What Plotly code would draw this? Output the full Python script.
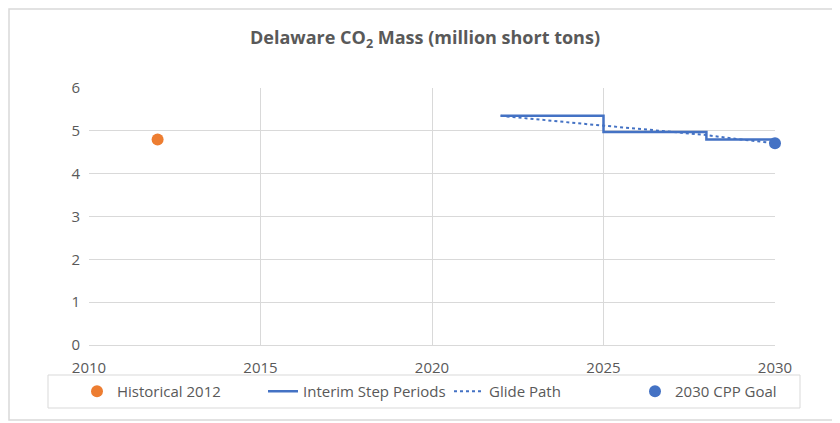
import plotly.graph_objects as go

hist_year = [2012]
hist_val = [4.80]
step_years = [2022, 2025, 2028, 2030]
step_vals = [5.35, 4.97, 4.80, 4.80]
glide_years = [2022, 2023, 2024, 2025, 2026, 2027, 2028, 2029, 2030]
glide_vals = [5.35, 5.27, 5.20, 5.12, 5.05, 4.97, 4.90, 4.80, 4.71]
goal_year = [2030]
goal_val = [4.71]
x_ticks = [2010, 2015, 2020, 2025, 2030]
y_ticks = [0, 1, 2, 3, 4, 5, 6]

FONT = "Open Sans, sans-serif"
GRAY = "#595959"
BLUE = "#4472c4"
ORANGE = "#ed7d31"
GRID = "#d9d9d9"

# page body has an 8px margin; the figure is placed at (8, 8) in the window
OFF = 8
W, H = 840 - OFF, 423 - OFF

fig = go.Figure()
fig.add_trace(go.Scatter(x=hist_year, y=hist_val, mode="markers", name="Historical 2012",
                         marker=dict(color=ORANGE, size=12), cliponaxis=False))
fig.add_trace(go.Scatter(x=step_years, y=step_vals, mode="lines", name="Interim Step Periods",
                         line=dict(color=BLUE, width=2.5, shape="hv"), cliponaxis=False))
fig.add_trace(go.Scatter(x=glide_years, y=glide_vals, mode="lines", name="Glide Path",
                         line=dict(color=BLUE, width=2, dash="dot"), cliponaxis=False))
fig.add_trace(go.Scatter(x=goal_year, y=goal_val, mode="markers", name="2030 CPP Goal",
                         marker=dict(color=BLUE, size=12), cliponaxis=False))

# plot area in window pixels: x 89..775, y 88..345
l = 89 - OFF
t = 88 - OFF
r = W - (775 - OFF)
b = H - (345 - OFF)
pw = W - l - r
ph = H - t - b

def px_x(p):
    return (p - OFF - l) / pw

def px_y(p):
    return (H - b - (p - OFF)) / ph

bx0, bx1 = px_x(9), px_x(900)
by0, by1 = px_y(420), px_y(9)
border_path = f"M {bx1},{by1} L {bx0},{by1} L {bx0},{by0} L {bx1},{by0}"

fig.update_layout(
    width=W, height=H,
    margin=dict(l=l, r=r, t=t, b=b, autoexpand=False),
    paper_bgcolor="white", plot_bgcolor="white",
    font=dict(family=FONT, color=GRAY, size=15),
    title=dict(text="<b>Delaware CO<sub>2</sub> Mass (million short tons)</b>",
               x=(425 - OFF) / W, xanchor="center", y=1 - (38 - OFF) / H, yanchor="middle",
               xref="container", yref="container",
               font=dict(size=18, color=GRAY, family=FONT)),
    xaxis=dict(range=[2010, 2030], tickvals=x_ticks, showgrid=True, gridcolor=GRID,
               gridwidth=1, zeroline=False, showline=True, linecolor=GRID,
               ticks="", ticklabelstandoff=9, tickfont=dict(size=15, color=GRAY)),
    yaxis=dict(range=[0, 6], tickvals=y_ticks, showgrid=True, gridcolor=GRID,
               gridwidth=1, zeroline=False, showline=False, ticks="",
               ticklabelstandoff=8, tickfont=dict(size=15, color=GRAY)),
    legend=dict(orientation="h", x=px_x(77), xanchor="left", y=px_y(391.5), yanchor="middle",
                borderwidth=0, bgcolor="rgba(0,0,0,0)",
                font=dict(size=15, color=GRAY), entrywidth=141),
    showlegend=True,
    shapes=[
        dict(type="path", xref="paper", yref="paper", path=border_path,
             line=dict(color=GRID, width=1.5), layer="below"),
        dict(type="rect", xref="paper", yref="paper",
             x0=px_x(48), x1=px_x(800), y0=px_y(408), y1=px_y(375),
             line=dict(color=GRID, width=1), fillcolor="white", layer="below"),
    ],
)

fig.write_html("out.html")
